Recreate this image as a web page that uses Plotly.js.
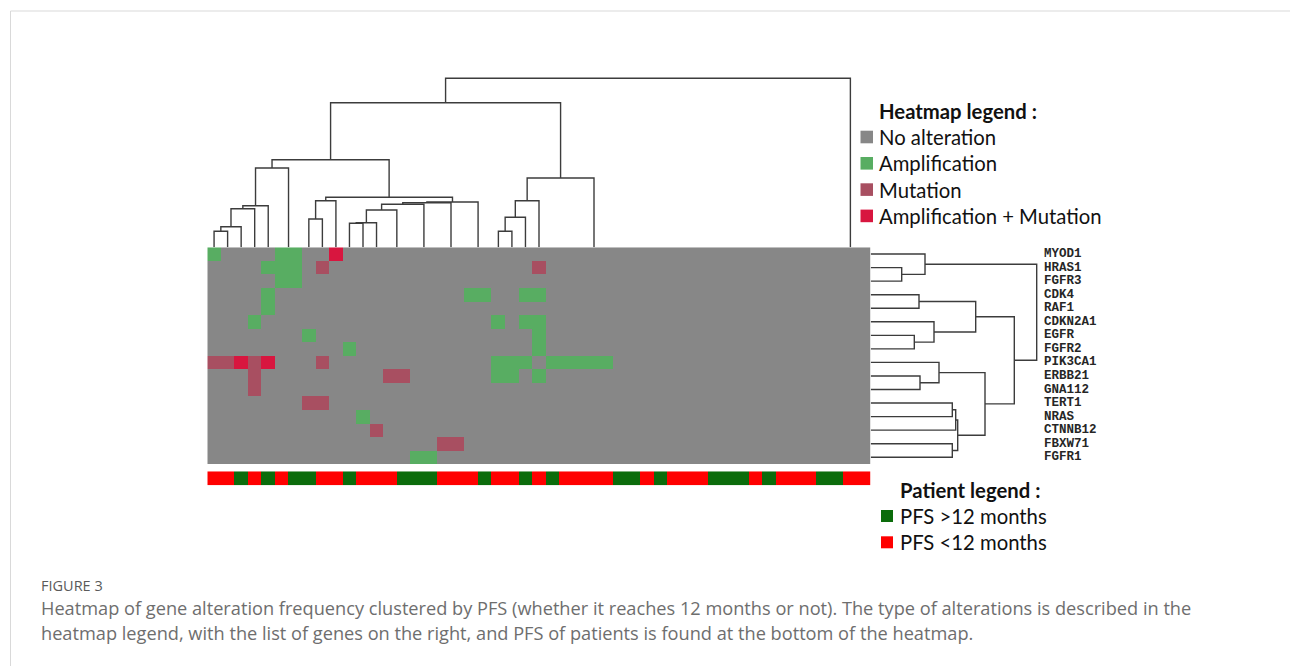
<!DOCTYPE html>
<html>
<head>
<meta charset="utf-8">
<script src="https://cdn.plot.ly/plotly-3.0.1.min.js"></script>
<style>
  html, body { margin: 0; padding: 0; background: #fff; }
  #chart { width: 1290px; height: 666px; }
</style>
</head>
<body>
<div id="chart"></div>
<script>
// ---------------- DATA ----------------
const genes = ["MYOD1", "HRAS1", "FGFR3", "CDK4", "RAF1", "CDKN2A1", "EGFR", "FGFR2",
  "PIK3CA1", "ERBB21", "GNA112", "TERT1", "NRAS", "CTNNB12", "FBXW71", "FGFR1"];

// alteration codes per patient column: 0 none, 1 amplification, 2 mutation, 3 amplification + mutation
const alterationRows = [
  "1000011003 0000000000 0000000000 0000000000 000000000", // MYOD1
  "0000111020 0000000000 0000200000 0000000000 000000000", // HRAS1
  "0000011000 0000000000 0000000000 0000000000 000000000", // FGFR3
  "0000100000 0000000001 1001100000 0000000000 000000000", // CDK4
  "0000100000 0000000000 0000000000 0000000000 000000000", // RAF1
  "0001000000 0000000000 0101100000 0000000000 000000000", // CDKN2A1
  "0000000100 0000000000 0000100000 0000000000 000000000", // EGFR
  "0000000000 1000000000 0000100000 0000000000 000000000", // FGFR2
  "2232300020 0000000000 0111011111 0000000000 000000000", // PIK3CA1
  "0002000000 0002200000 0110100000 0000000000 000000000", // ERBB21
  "0002000000 0000000000 0000000000 0000000000 000000000", // GNA112
  "0000000220 0000000000 0000000000 0000000000 000000000", // TERT1
  "0000000000 0100000000 0000000000 0000000000 000000000", // NRAS
  "0000000000 0020000000 0000000000 0000000000 000000000", // CTNNB12
  "0000000000 0000000220 0000000000 0000000000 000000000", // FBXW71
  "0000000000 0000011000 0000000000 0000000000 000000000"  // FGFR1
];

// PFS per patient column: 1 = PFS > 12 months, 0 = PFS < 12 months
const pfs = [0,0,1,0,1,0,1,1,0,0, 1,0,0,0,1,1,1,0,0,0, 1,0,0,1,0,1,0,0,0,0,
             1,1,0,1,0,0,0,1,1,1, 0,1,0,0,0,1,1,0,0];

// column dendrogram (hclust style: negative = leaf number, positive = earlier merge)
const colMerges = [
  [-1,-2],[1,-3],[2,-4],[3,-5],[-6,-7],[4,5],[-8,-9],[7,-10],[-11,-12],[9,-13],
  [-14,-15],[10,11],[-16,-17],[12,13],[-18,-19],[14,15],[-20,-21],[16,17],[8,18],[6,19],
  [-22,-23],[21,-24],[22,-25],[-26,-27],[24,-28],[25,-29],[26,-30],[23,27],[20,28],
  [-31,-32],[30,-33],[31,-34],[32,-35],[33,-36],[34,-37],[35,-38],[36,-39],[37,-40],[38,-41],
  [39,-42],[40,-43],[41,-44],[42,-45],[43,-46],[44,-47],[45,-48],[46,-49],[29,47]
];
const colHeights = [
  16, 20.6, 38.6, 41.6, 0, 79.3, 28.3, 46.6, 24, 24.5,
  0, 37.3, 0, 43, 0, 44.6, 0, 45.3, 50, 87.6,
  16, 30, 46.6, 0, 0, 0, 0, 69.3, 144.6,
  0, 0, 0, 0, 0, 0, 0, 0, 0, 0,
  0, 0, 0, 0, 0, 0, 0, 0, 169
];

// row (gene) dendrogram
const rowMerges = [
  [-2,-3],[-1,1],[-4,-5],[-7,-8],[-6,4],[3,5],[-10,-11],[-9,7],
  [-12,-13],[9,-14],[-15,-16],[10,11],[8,12],[6,13],[2,14]
];
const rowHeights = [31, 54.3, 48.3, 43.6, 63.3, 105, 49.3, 68.3, 81.6, 85, 81.6, 87, 114.3, 143.6, 166];

const heatLegendTitle = "Heatmap legend :";
const heatLegendLabels = ["No alteration", "Amplification", "Mutation", "Amplification + Mutation"];
const heatColors = ["#878787", "#58ad62", "#a84f61", "#d8163f"];

const patientLegendTitle = "Patient legend :";
const patientLegendLabels = ["PFS >12 months", "PFS <12 months"];
const patientColors = ["#0b6c0b", "#ff0000"]; // >12, <12

const figLabel = "FIGURE 3";
const captionLines = [
  "Heatmap of gene alteration frequency clustered by PFS (whether it reaches 12 months or not). The type of alterations is described in the",
  "heatmap legend, with the list of genes on the right, and PFS of patients is found at the bottom of the heatmap."
];

// ---------------- LAYOUT GEOMETRY (pixels) ----------------
const W = 1290, H = 666;
const px = x => x / W;
const py = y => 1 - y / H;
const HM = { left: 207.3, right: 870.7, top: 247.3, bottom: 464 };
const BAR = { top: 471.3, bottom: 485.3 };
const DEND = 175; // pixels of dendrogram height axis

// ---------------- BUILD ----------------
const z = alterationRows.map(s => s.replace(/\s/g, "").split("").map(Number));
const nCols = z[0].length;
const colIdx = Array.from({length: nCols}, (_, i) => i);
const rowIdx = genes.map((_, i) => i);

function dendroSegments(merges, heights) {
  const pos = [];
  const along = [], hgt = [];
  const node = r => r < 0 ? {p: -r - 1, h: 0} : {p: pos[r - 1], h: heights[r - 1]};
  merges.forEach((m, i) => {
    const L = node(m[0]), R = node(m[1]), h = heights[i];
    pos.push((L.p + R.p) / 2);
    if (h > 0) {
      along.push(L.p, L.p, R.p, R.p, null);
      hgt.push(L.h, h, h, R.h, null);
    }
  });
  return {along, hgt};
}
const colD = dendroSegments(colMerges, colHeights);
const rowD = dendroSegments(rowMerges, rowHeights);

const hmScale = [
  [0, heatColors[0]], [1/6, heatColors[0]],
  [1/6, heatColors[1]], [0.5, heatColors[1]],
  [0.5, heatColors[2]], [5/6, heatColors[2]],
  [5/6, heatColors[3]], [1, heatColors[3]]
];
const pfsScale = [[0, patientColors[1]], [0.5, patientColors[1]], [0.5, patientColors[0]], [1, patientColors[0]]];

const lineStyle = {color: "#3c3c3c", width: 1.4};

const traces = [
  {type: "heatmap", z: z, x: colIdx, y: rowIdx, colorscale: hmScale, zmin: 0, zmax: 3,
   showscale: false, hoverinfo: "skip", xaxis: "x", yaxis: "y"},
  {type: "heatmap", z: [pfs], x: colIdx, y: [0], colorscale: pfsScale, zmin: 0, zmax: 1,
   showscale: false, hoverinfo: "skip", xaxis: "x", yaxis: "y2"},
  {type: "scatter", mode: "lines", x: colD.along, y: colD.hgt, line: lineStyle,
   hoverinfo: "skip", xaxis: "x", yaxis: "y3", showlegend: false, connectgaps: false},
  {type: "scatter", mode: "lines", x: rowD.hgt, y: rowD.along, line: lineStyle,
   hoverinfo: "skip", xaxis: "x2", yaxis: "y", showlegend: false, connectgaps: false}
];

const hidden = {showgrid: false, zeroline: false, showticklabels: false, ticks: "", showline: false, fixedrange: true};

const shapes = [];
const annotations = [];

// figure frame
shapes.push({type: "rect", xref: "paper", yref: "paper", x0: px(10.5), x1: px(1320), y0: py(11), y1: py(720),
  line: {color: "#d9d9d9", width: 1}, fillcolor: "rgba(0,0,0,0)", layer: "below"});

// gene labels
genes.forEach((g, i) => annotations.push({
  xref: "paper", yref: "y", x: px(1042), y: i, text: g, showarrow: false, xanchor: "left", yanchor: "middle",
  font: {family: "Liberation Mono", size: 12.5, color: "#262626", weight: "bold"}
}));

const legFont = {family: "Lato", size: 20.3, color: "#111"};
// heatmap legend
annotations.push({xref: "paper", yref: "paper", x: px(877), y: py(111), text: "<b>" + heatLegendTitle + "</b>",
  showarrow: false, xanchor: "left", yanchor: "middle", font: legFont});
heatLegendLabels.forEach((lab, i) => {
  const yc = 137 + i * 26.3;
  shapes.push({type: "rect", xref: "paper", yref: "paper", x0: px(860.5), x1: px(873), y0: py(yc - 6.3), y1: py(yc + 6.3),
    fillcolor: heatColors[i], line: {width: 0}});
  annotations.push({xref: "paper", yref: "paper", x: px(877), y: py(yc), text: lab, showarrow: false,
    xanchor: "left", yanchor: "middle", font: legFont});
});
// patient legend
annotations.push({xref: "paper", yref: "paper", x: px(898), y: py(490), text: "<b>" + patientLegendTitle + "</b>",
  showarrow: false, xanchor: "left", yanchor: "middle", font: legFont});
patientLegendLabels.forEach((lab, i) => {
  const yc = 516 + i * 26.3;
  shapes.push({type: "rect", xref: "paper", yref: "paper", x0: px(881), x1: px(893), y0: py(yc - 6), y1: py(yc + 6),
    fillcolor: patientColors[i], line: {width: 0}});
  annotations.push({xref: "paper", yref: "paper", x: px(898), y: py(yc), text: lab, showarrow: false,
    xanchor: "left", yanchor: "middle", font: legFont});
});

// caption
annotations.push({xref: "paper", yref: "paper", x: px(39), y: py(585), text: figLabel, showarrow: false,
  xanchor: "left", yanchor: "middle", font: {family: "Open Sans", size: 14.5, color: "#5a5a5a"}});
captionLines.forEach((t, i) => annotations.push({
  xref: "paper", yref: "paper", x: px(39), y: py(608 + i * 25), text: t, showarrow: false,
  xanchor: "left", yanchor: "middle", font: {family: "Open Sans", size: 18.2, color: "#6e6e6e"}
}));

const layout = {
  width: W, height: H,
  margin: {l: 0, r: 0, t: 0, b: 0, pad: 0},
  paper_bgcolor: "#ffffff", plot_bgcolor: "rgba(0,0,0,0)",
  showlegend: false,
  xaxis: Object.assign({}, hidden, {domain: [px(HM.left), px(HM.right)], range: [-0.5, nCols - 0.5], anchor: "y"}),
  yaxis: Object.assign({}, hidden, {domain: [py(HM.bottom), py(HM.top)], range: [genes.length - 0.5, -0.5], anchor: "x"}),
  yaxis2: Object.assign({}, hidden, {domain: [py(BAR.bottom), py(BAR.top)], range: [-0.5, 0.5], anchor: "x"}),
  yaxis3: Object.assign({}, hidden, {domain: [py(HM.top), py(HM.top - DEND)], range: [0, DEND], anchor: "x"}),
  xaxis2: Object.assign({}, hidden, {domain: [px(HM.right), px(HM.right + DEND)], range: [0, DEND], anchor: "y"}),
  shapes: shapes,
  annotations: annotations
};

Plotly.newPlot("chart", traces, layout, {staticPlot: true, displayModeBar: false});
</script>
</body>
</html>
